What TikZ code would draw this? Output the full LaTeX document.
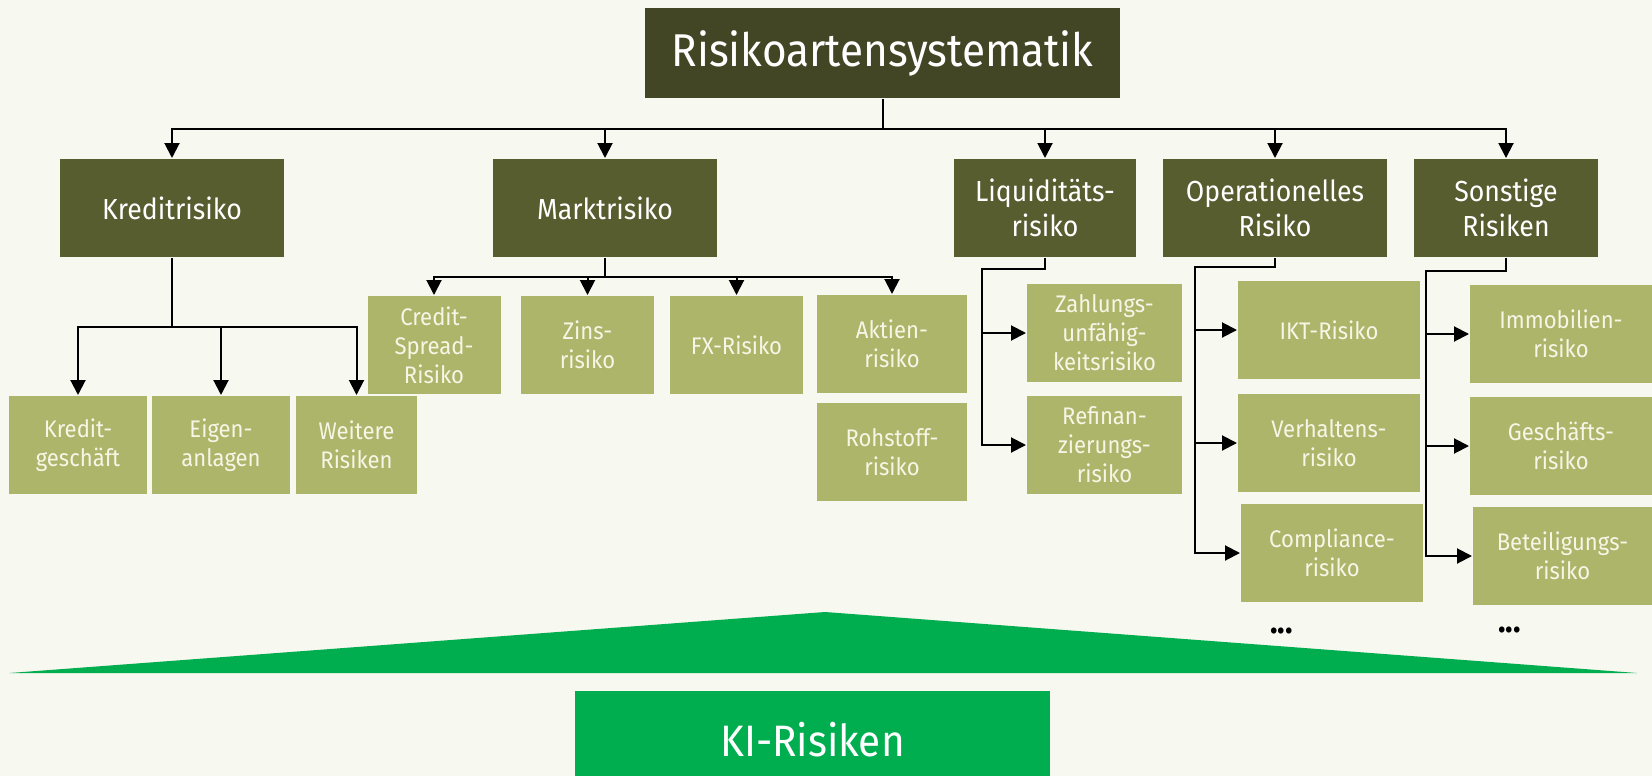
\documentclass[tikz,border=0pt]{standalone}
\usepackage{fontspec}
\setmainfont{Fira Sans}[FakeStretch=0.92]
\usetikzlibrary{arrows.meta, positioning}

\definecolor{paper}{HTML}{F7F8F0}
\definecolor{topolive}{HTML}{434624}
\definecolor{midolive}{HTML}{575D2F}
\definecolor{lightolive}{HTML}{ADB56A}
\definecolor{kigreen}{HTML}{00AE50}
\definecolor{subtext}{HTML}{F6F6E6}

\begin{document}
\begin{tikzpicture}[x=1pt, y=-1pt, >={Triangle[width=15pt,length=15pt]}, line width=2pt]

        \tikzstyle{every node}=[inner sep=0pt, align=center]
        \tikzstyle{main}=[fill=midolive, text=white, minimum height=98pt, font=\fontsize{29}{35}\selectfont]
        \tikzstyle{sub}=[fill=lightolive, text=subtext, minimum height=98pt, font=\fontsize{24}{29}\selectfont]

        \path[use as bounding box, fill=paper] (0,0) rectangle (1652,776);

        \node[fill=topolive, text=white, minimum width=475pt, minimum height=90pt, font=\fontsize{46}{54}\selectfont] (risk) at (882.5,53) {Risikoartensystematik};

        \node[main, minimum width=224pt] (kredit) at (172,208) {Kreditrisiko};
        \node[main, minimum width=224pt] (markt)  at (605,208) {Marktrisiko};
        \node[main, minimum width=182pt] (liqui)  at (1045,208) {Liquiditäts-\\risiko};
        \node[main, minimum width=224pt] (oprisk) at (1275,208) {Operationelles\\Risiko};
        \node[main, minimum width=184pt] (sonst)  at (1506,208) {Sonstige\\Risiken};

        % Kreditrisiko
        \node[sub, minimum width=138pt] (kgesch)  at (78,445)    {Kredit-\\geschäft};
        \node[sub, minimum width=138pt] (eigen)   at (221,445)   {Eigen-\\anlagen};
        \node[sub, minimum width=121pt] (weitere) at (356.5,445) {Weitere\\Risiken};

        % Marktrisiko
        \node[sub, minimum width=133pt] (spread)   at (434,345)   {Credit-\\Spread-\\Risiko};
        \node[sub, minimum width=133pt] (zins)     at (587.5,345) {Zins-\\risiko};
        \node[sub, minimum width=133pt] (fx)       at (736.5,345) {FX-Risiko};
        \node[sub, minimum width=150pt] (aktien)   at (892,344)   {Aktien-\\risiko};
        \node[sub, minimum width=150pt] (rohstoff) at (892,452)   {Rohstoff-\\risiko};

        % Liquiditaetsrisiko
        \node[sub, minimum width=155pt] (zahlung)  at (1104.5,333) {Zahlungs-\\unfähig-\\keitsrisiko};
        \node[sub, minimum width=155pt] (refinanz) at (1104.5,445) {Refinan-\\zierungs-\\risiko};

        % Operationelles Risiko
        \node[sub, minimum width=182pt] (ikt)        at (1329,330) {IKT-Risiko};
        \node[sub, minimum width=182pt] (verhalten)  at (1329,443) {Verhaltens-\\risiko};
        \node[sub, minimum width=182pt] (compliance) at (1332,553) {Compliance-\\risiko};
        \node[font=\bfseries\fontsize{34}{34}\selectfont] (opdots) at (1281.5,631) {...};

        % Sonstige Risiken
        \node[sub, minimum width=182pt] (immo)   at (1561,334)   {Immobilien-\\risiko};
        \node[sub, minimum width=182pt] (gesch)  at (1561,446)   {Geschäfts-\\risiko};
        \node[sub, minimum width=179pt] (beteil) at (1562.5,556) {Beteiligungs-\\risiko};
        \node[font=\bfseries\fontsize{34}{34}\selectfont] (sodots) at (1509.5,630) {...};

        \coordinate (liqbar) at (982,269);
        \coordinate (opbar)  at (1194.5,267);
        \coordinate (sobar)  at (1426,271);

        \foreach \n in {kredit, markt, liqui, oprisk, sonst}
            \draw[->] (risk.south) -- ++(0,30) -| (\n.north);
        \foreach \n in {kgesch, eigen, weitere}
            \draw[->] (kredit.south) -- ++(0,69) -| (\n.north);
        \foreach \n in {spread, zins, fx, aktien}
            \draw[->] (markt.south) -- ++(0,19) -| (\n.north);
        \foreach \n in {zahlung, refinanz}
            \draw[->] (liqui.south) |- (liqbar) |- (\n.west);
        \foreach \n in {ikt, verhalten, compliance}
            \draw[->] (oprisk.south) |- (opbar) |- (\n.west);
        \foreach \n in {immo, gesch, beteil}
            \draw[->] (sonst.south) |- (sobar) |- (\n.west);

        % KI-Risiken
        \fill[kigreen] (9.5,673) -- (825,612) -- (1637,673) -- cycle;
        \node[fill=kigreen, text=white, minimum width=475pt, minimum height=98pt, font=\fontsize{44}{52}\selectfont] (ki) at (812.5,740) {KI-Risiken};

        \end{tikzpicture}
\end{document}
